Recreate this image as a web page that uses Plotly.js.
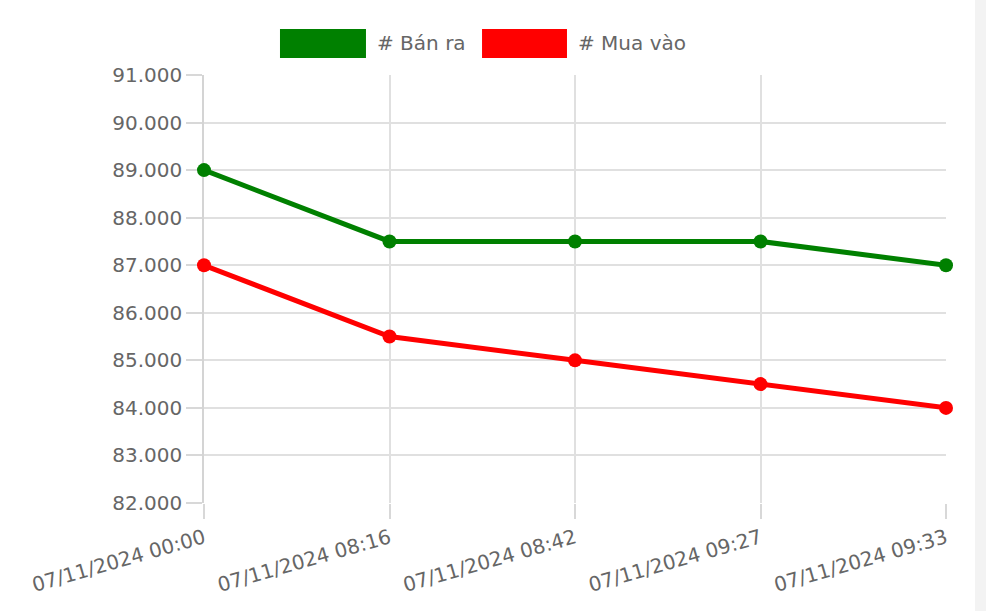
<!DOCTYPE html>
<html>
<head>
<meta charset="utf-8">
<script src="https://cdn.plot.ly/plotly-3.0.1.min.js"></script>
<style>
  html, body { margin: 0; padding: 0; background: #fff; }
  #chart { width: 986px; height: 611px; }
  #strip { position: absolute; left: 975px; top: 0; width: 11px; height: 611px; background: #f3f3f3; }
</style>
</head>
<body>
<div id="chart"></div>
<div id="strip"></div>
<script>
const categories = ["07/11/2024 00:00", "07/11/2024 08:16", "07/11/2024 08:42", "07/11/2024 09:27", "07/11/2024 09:33"];
const banRa = [89000, 87500, 87500, 87500, 87000];
const muaVao = [87000, 85500, 85000, 84500, 84000];
const seriesNames = ["# Bán ra", "# Mua vào"];
const seriesColors = ["#008000", "#ff0000"];

const FONT = "DejaVu Sans, Liberation Sans, Arial, sans-serif";
const TXT = "#666666";
const GRID = "#e0e0e0";

const traces = [banRa, muaVao].map((vals, i) => ({
  type: "scatter",
  mode: "lines+markers",
  x: categories,
  y: vals,
  name: seriesNames[i],
  line: { color: seriesColors[i], width: 5 },
  marker: { color: seriesColors[i], size: 14 },
  cliponaxis: false,
  showlegend: false,
  hoverinfo: "x+y"
}));

// custom legend (boxes like the original)
const legendBoxes = [
  { x0: 0.1024, x1: 0.2183, tx: 0.2305 },
  { x0: 0.3747, x1: 0.4892, tx: 0.5013 }
];
const shapes = legendBoxes.map((b, i) => ({
  type: "rect", xref: "paper", yref: "paper",
  x0: b.x0, x1: b.x1, y0: 1.0397, y1: 1.1075,
  fillcolor: seriesColors[i], line: { width: 0 }
}));
const annotations = legendBoxes.map((b, i) => ({
  xref: "paper", yref: "paper", x: b.tx, y: 1.0736,
  xanchor: "left", yanchor: "middle", showarrow: false,
  text: seriesNames[i], font: { family: FONT, size: 20, color: TXT }
}));

const layout = {
  width: 986, height: 611,
  margin: { l: 204, r: 40, t: 75, b: 108 },
  paper_bgcolor: "#ffffff", plot_bgcolor: "#ffffff",
  separators: ",.",
  showlegend: false,
  shapes: shapes,
  annotations: annotations,
  xaxis: {
    type: "category",
    range: [0, categories.length - 1],
    layer: "below traces",
    showgrid: true, gridcolor: GRID, gridwidth: 1.5,
    showline: false, zeroline: false,
    ticks: "outside", ticklen: 15, tickcolor: "#d8d8d8", tickwidth: 1.5,
    tickangle: -16,
    tickfont: { family: FONT, size: 20, color: TXT },
    fixedrange: true
  },
  yaxis: {
    range: [82000, 91000], dtick: 1000, tick0: 82000,
    tickformat: ",.0f",
    layer: "below traces",
    showgrid: true, gridcolor: GRID, gridwidth: 1.5,
    showline: true, linecolor: "#d4d4d4", linewidth: 1.5,
    zeroline: false,
    ticks: "outside", ticklen: 16, tickcolor: "#d8d8d8", tickwidth: 1.5,
    tickfont: { family: FONT, size: 20, color: TXT },
    fixedrange: true
  }
};

Plotly.newPlot("chart", traces, layout, { displayModeBar: false });
</script>
</body>
</html>
